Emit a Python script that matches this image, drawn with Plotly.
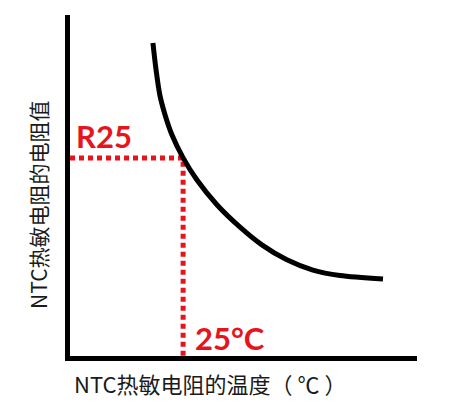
import plotly.graph_objects as go

# NTC curve: temperature (arbitrary units) vs resistance (arbitrary units)
temp = [23.9, 24.8, 25.9, 27.4, 29.4, 32.6, 36.6, 42.4, 49.0, 55.3, 62.5, 70.0, 77.8, 90.2]
resistance = [91.8, 83.9, 76.5, 70.7, 64.8, 58.1, 51.6, 44.3, 37.8, 32.6, 28.2, 25.2, 23.6, 22.6]

# reference point R25 at 25°C
ref_temp = 32.6
ref_res = 58.1
ref_guide_x = [0, ref_temp, ref_temp]
ref_guide_y = [ref_res, ref_res, 0]

label_r25 = "R25"
label_25c = "25°C"
x_title = "NTC热敏电阻的温度（ ℃ ）"
y_title = "NTC热敏电阻的电阻值"

L, R, T, B = 70, 36, 15, 49
W, H = 453, 405
PW, PH = W - L - R, H - T - B


def px(x):
    return (x - L) / PW


def py(y):
    return (H - B - y) / PH


fig = go.Figure()
fig.add_trace(go.Scatter(
    x=ref_guide_x, y=ref_guide_y, mode="lines",
    line=dict(color="#e8141c", width=5, dash="5px,4px"),
    hoverinfo="skip", cliponaxis=False))
fig.add_trace(go.Scatter(
    x=temp, y=resistance, mode="lines",
    line=dict(color="black", width=5, shape="spline", smoothing=0.8),
    hoverinfo="skip", cliponaxis=False))

red_font = dict(family="Lato", size=31, color="#e8141c", weight="bold")
fig.add_annotation(x=px(74), y=py(136), xref="paper", yref="paper", text=label_r25,
                   showarrow=False, xanchor="left", yanchor="middle", font=red_font)
fig.add_annotation(x=px(193), y=py(338), xref="paper", yref="paper", text=label_25c,
                   showarrow=False, xanchor="left", yanchor="middle", font=red_font)

title_font = dict(family="Noto Sans CJK SC", size=22, color="#1a1a1a")
fig.add_annotation(x=px(210), y=py(383), xref="paper", yref="paper", text=x_title,
                   showarrow=False, xanchor="center", yanchor="middle", font=title_font)
fig.add_annotation(x=px(38), y=py(205), xref="paper", yref="paper", text=y_title,
                   showarrow=False, textangle=-90, xanchor="center", yanchor="middle",
                   font=dict(family="Noto Sans CJK SC", size=21, color="#1a1a1a"))

fig.update_layout(
    width=W, height=H,
    margin=dict(l=L, r=R, t=T, b=B),
    paper_bgcolor="white", plot_bgcolor="white",
    showlegend=False,
    xaxis=dict(range=[0, 100], showline=True, linecolor="black", linewidth=5,
               showgrid=False, zeroline=False, showticklabels=False, ticks=""),
    yaxis=dict(range=[0, 100], showline=True, linecolor="black", linewidth=5,
               showgrid=False, zeroline=False, showticklabels=False, ticks=""),
)

fig.write_html("out.html", config={"displayModeBar": False},
               post_script="document.body.style.margin='0';")
